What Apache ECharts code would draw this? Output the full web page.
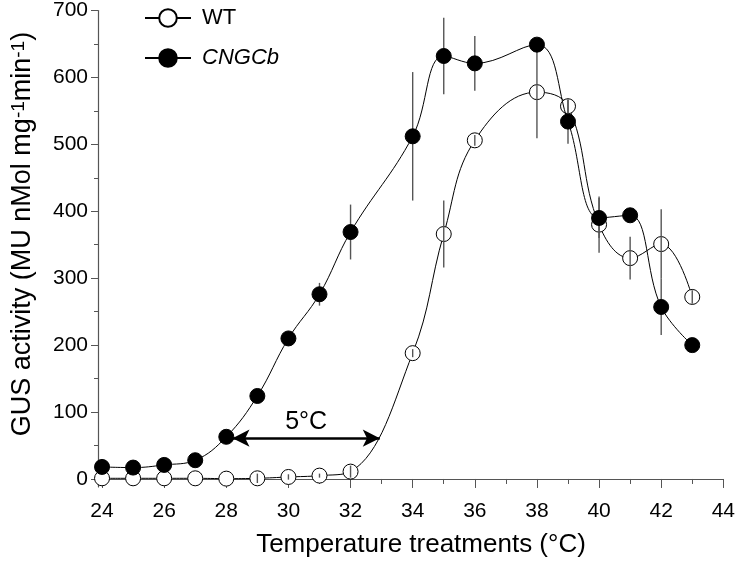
<!DOCTYPE html>
<html>
<head>
<meta charset="utf-8">
<script src="https://cdn.jsdelivr.net/npm/echarts@6/dist/echarts.min.js"></script>
<style>html,body{margin:0;padding:0;background:#fff}#c{width:738px;height:564px}</style>
</head>
<body>
<div id="c"></div>
<script>
const temps = [24,25,26,27,28,29,30,31,32,34,35,36,38,39,40,41,42,43];
const wt = [1,1,1,1,0.5,1,3,5,11,188,366,506,578,557,380,330,351,272];
const wtErr = [0,0,0,0,0,7,4,3,9,6,50,8,69,10,42,32,52,10];
const cngcb = [18,17,21,28,63,124,210,276,369,512,632,621,649,534,390,394,257,200];
const cngcbErr = [0,0,0,0,0,0,8,17,41,96,57,41,10,33,30,0,42,0];
const xMajor = [24,26,28,30,32,34,36,38,40,42,44];
const xMinor = [25,27,29,31,33,35,37,39,41,43];
const yMajor = [0,100,200,300,400,500,600,700];
const yMinor = [50,150,250,350,450,550,650];
const arrowSpan = [28.2, 32.94];
const arrowY = 61;

const FONT = 'Liberation Sans, Arial, sans-serif';
const wtData = temps.map((t,i)=>[t,wt[i]]);
const cnData = temps.map((t,i)=>[t,cngcb[i]]);
const errData = [];
temps.forEach((t,i)=>{ if(wtErr[i]>0) errData.push([t,wt[i],wtErr[i]]); });
temps.forEach((t,i)=>{ if(cngcbErr[i]>0) errData.push([t,cngcb[i],cngcbErr[i]]); });

const chart = echarts.init(document.getElementById('c'));
const axisLine = {show:true, lineStyle:{color:'#555', width:1.2}};
chart.setOption({
  animation:false,
  grid:{left:98, right:12, top:10, bottom:77},
  legend:{
    orient:'vertical', left:139, top:2, itemWidth:46, itemHeight:22, itemGap:18,
    textStyle:{fontFamily:FONT, fontSize:22, color:'#000', padding:[0,0,0,6]},
    data:[{name:'WT'},{name:'CNGCb', textStyle:{fontStyle:'italic'}}]
  },
  graphic:[
    {type:'text', x:421, y:545, silent:true,
     style:{text:'Temperature treatments (°C)', fontFamily:FONT, fontSize:26, fill:'#000', align:'center', verticalAlign:'middle'}},
    {type:'text', x:23, y:234, rotation:Math.PI/2, silent:true,
     style:{text:'GUS activity (MU nMol mg{sup|-1}min{sup|-1})', fontFamily:FONT, fontSize:27, fill:'#000',
       align:'center', verticalAlign:'middle',
       rich:{sup:{fontFamily:FONT, fontSize:19, fill:'#000', verticalAlign:'top', lineHeight:19, padding:[0,0,14,0]}}}}
  ],
  xAxis:[{
    type:'value', min:23.87, max:44,
    axisLine:axisLine,
    axisTick:{show:true, customValues:xMajor, length:9, lineStyle:{color:'#555'}},
    axisLabel:{customValues:xMajor, fontFamily:FONT, fontSize:21, color:'#000', margin:14},
    splitLine:{show:false}
  },{
    type:'value', min:23.87, max:44, position:'bottom', offset:0,
    axisLine:{show:false},
    axisTick:{show:true, customValues:xMinor, length:5, lineStyle:{color:'#555'}},
    axisLabel:{show:false}, splitLine:{show:false}
  }],
  yAxis:[{
    type:'value', min:-12, max:700,
    axisLine:axisLine,
    axisTick:{show:true, customValues:yMajor, length:7, lineStyle:{color:'#555'}},
    axisLabel:{customValues:yMajor, fontFamily:FONT, fontSize:21, color:'#000', margin:10},
    splitLine:{show:false}
  },{
    type:'value', min:-12, max:700, position:'left', offset:0,
    axisLine:{show:false},
    axisTick:{show:true, customValues:yMinor, length:4, lineStyle:{color:'#555'}},
    axisLabel:{show:false}, splitLine:{show:false}
  }],
  series:[
    {name:'WT', type:'line', data:wtData, smooth:0.4, symbol:'circle', symbolSize:15, z:2,
     lineStyle:{color:'#000', width:1}, itemStyle:{color:'#fff', borderColor:'#000', borderWidth:1}},
    {name:'err', type:'custom', data:errData, z:3, silent:true,
     renderItem:(params, api)=>{
       const x=api.value(0), y=api.value(1), e=api.value(2);
       const a=api.coord([x,y+e]), b=api.coord([x,y-e]);
       return {type:'line', shape:{x1:a[0],y1:a[1],x2:b[0],y2:b[1]}, style:{stroke:'#555', lineWidth:1.4}};
     }},
    {name:'CNGCb', type:'line', data:cnData, smooth:0.4, symbol:'circle', symbolSize:15, z:4,
     lineStyle:{color:'#000', width:1}, itemStyle:{color:'#000', borderColor:'#000', borderWidth:1},
     markLine:{silent:true, symbol:['arrow','arrow'], symbolSize:[13,17],
       lineStyle:{color:'#000', width:2.5, type:'solid'},
       label:{show:true, position:'insideMiddleTop', formatter:'5°C', fontFamily:FONT, fontSize:25, color:'#000', distance:4},
       data:[[{coord:[arrowSpan[0],arrowY]},{coord:[arrowSpan[1],arrowY]}]]}}
  ]
});
</script>
</body>
</html>
